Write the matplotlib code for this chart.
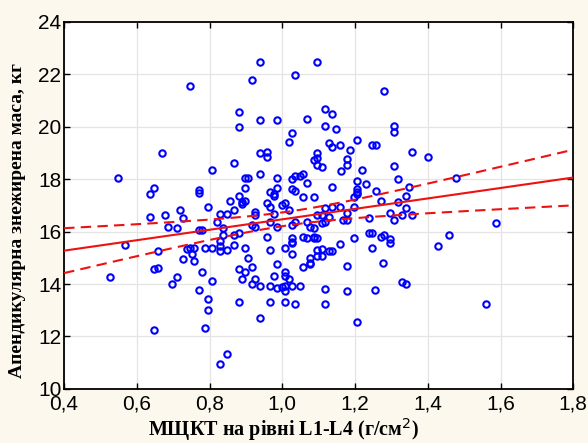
import matplotlib.pyplot as plt
import numpy as np

# bone mineral density (x) vs appendicular lean mass (y)
bmd = [0.939, 1.095, 0.916, 1.035, 0.747, 1.280, 0.880, 0.880, 0.939, 0.985,
       1.068, 1.118, 1.136, 1.118, 1.147, 1.306, 1.306, 1.026, 1.017, 0.669,
       0.939, 0.957, 0.957, 0.866, 0.806, 0.939, 0.549, 0.898, 0.907, 0.985,
       1.026, 1.035, 1.049, 1.058, 1.068, 1.086, 1.095, 1.095, 1.095, 1.109,
       1.128, 1.137, 1.159, 1.206, 1.246, 1.257, 1.187, 1.178, 1.178, 1.357,
       1.400, 1.306, 1.220, 1.160, 1.317, 1.478, 1.206, 1.206, 1.206, 1.229,
       1.137, 1.348, 1.257, 1.197, 1.271, 1.340, 1.317, 1.340, 1.118, 1.136,
       1.159, 1.196, 0.646, 0.637, 0.770, 0.770, 0.898, 0.880, 0.857, 0.889,
       0.889, 0.898, 0.985, 0.967, 0.976, 0.976, 1.026, 1.035, 1.058, 1.086,
       0.957, 0.967, 0.999, 1.008, 0.797, 0.719, 0.866, 0.925, 1.017, 0.635,
       0.678, 0.728, 0.687, 0.710, 0.770, 0.779, 0.568, 0.525, 0.646, 0.659,
       0.659, 0.737, 0.747, 0.756, 0.753, 0.756, 0.728, 0.788, 0.806, 0.779,
       0.806, 0.696, 0.710, 0.770, 0.797, 0.797, 0.788, 0.646, 0.848, 0.829,
       0.820, 0.829, 0.848, 0.838, 0.838, 0.829, 0.829, 0.829, 0.848, 0.866,
       0.866, 0.880, 0.898, 0.907, 0.880, 0.889, 0.898, 0.916, 0.916, 0.925,
       0.939, 0.880, 0.939, 0.925, 0.916, 0.925, 0.976, 0.967, 0.985, 0.957,
       0.967, 0.985, 0.976, 0.967, 0.985, 0.999, 0.967, 1.008, 1.008, 1.017,
       1.008, 1.008, 1.026, 1.049, 1.008, 1.035, 1.008, 1.026, 1.026, 1.026,
       1.026, 1.026, 1.035, 1.068, 1.077, 1.086, 1.095, 1.058, 1.068, 1.086,
       1.086, 1.095, 1.095, 1.077, 1.077, 1.077, 1.058, 1.095, 1.109, 1.109,
       1.127, 1.136, 1.159, 1.196, 1.178, 1.118, 1.118, 1.178, 1.205, 1.246,
       1.237, 1.246, 1.255, 1.109, 1.127, 1.110, 1.118, 1.168, 1.178, 1.178,
       1.237, 1.297, 1.306, 1.329, 1.357, 1.271, 1.280, 1.297, 1.297, 1.278,
       1.329, 1.340, 1.427, 1.459, 1.588, 1.561, 1.205]
lean = [22.47, 22.47, 21.78, 21.97, 21.54, 21.35, 20.54, 19.98, 20.24, 20.24,
        20.30, 20.67, 20.48, 20.04, 19.92, 20.04, 19.79, 19.74, 19.42, 18.99,
        18.99, 19.05, 18.86, 18.61, 18.35, 18.18, 18.05, 18.05, 18.05, 18.05,
        17.99, 18.11, 18.11, 18.18, 17.86, 18.74, 18.99, 18.80, 18.55, 18.48,
        19.36, 19.23, 19.29, 19.49, 19.29, 19.29, 19.12, 18.75, 18.55, 19.05,
        18.86, 18.49, 18.36, 18.30, 17.99, 18.05, 17.92, 17.62, 17.49, 17.81,
        17.68, 17.68, 17.55, 17.30, 17.17, 17.36, 17.11, 16.88, 16.88, 16.93,
        16.93, 16.94, 17.67, 17.43, 17.60, 17.48, 17.67, 17.37, 17.18, 17.11,
        17.05, 17.18, 17.67, 17.49, 17.37, 17.43, 17.61, 17.56, 17.30, 17.30,
        17.08, 16.95, 17.03, 17.08, 16.93, 16.82, 16.81, 16.75, 16.84, 16.56,
        16.62, 16.50, 16.18, 16.12, 16.06, 16.06, 15.50, 14.25, 14.57, 14.62,
        15.26, 15.32, 15.36, 15.38, 15.16, 14.88, 14.95, 15.38, 15.38, 14.45,
        14.13, 14.00, 14.25, 13.76, 13.44, 13.01, 12.32, 12.26, 11.33, 10.95,
        16.36, 16.68, 16.68, 16.12, 15.87, 15.63, 15.44, 15.26, 15.31, 15.50,
        15.87, 15.93, 15.37, 15.00, 14.57, 14.19, 14.45, 14.64, 14.00, 14.19,
        13.94, 13.31, 12.69, 16.62, 16.25, 16.18, 16.68, 16.36, 16.18, 15.80,
        15.31, 14.75, 14.32, 13.94, 13.83, 13.88, 13.31, 14.45, 14.32, 14.19,
        13.94, 13.75, 13.94, 13.94, 13.31, 13.25, 15.37, 15.13, 15.62, 15.74,
        15.55, 16.25, 16.36, 16.36, 16.18, 16.12, 16.62, 15.80, 15.74, 15.80,
        15.74, 15.74, 15.31, 15.00, 14.81, 14.75, 14.64, 15.07, 15.07, 15.32,
        15.26, 15.26, 15.51, 15.74, 14.69, 13.82, 13.25, 13.75, 12.56, 15.38,
        15.93, 15.93, 13.76, 16.62, 16.54, 16.31, 16.36, 16.44, 16.44, 16.69,
        16.50, 16.69, 16.44, 16.63, 16.63, 15.80, 15.87, 15.70, 15.57, 14.81,
        14.06, 14.00, 15.45, 15.87, 16.31, 13.25, 17.45]

x_ticks = [0.4, 0.6, 0.8, 1.0, 1.2, 1.4, 1.6, 1.8]
y_ticks = [10, 12, 14, 16, 18, 20, 22, 24]

x = np.array(bmd)
y = np.array(lean)

# linear fit with 95% confidence band
n = len(x)
b, a = np.polyfit(x, y, 1)
resid = y - (a + b * x)
s = np.sqrt(np.sum(resid ** 2) / (n - 2))
sxx = np.sum((x - x.mean()) ** 2)
xs = np.linspace(0.4, 1.8, 200)
fit = a + b * xs
half = 1.97 * s * np.sqrt(1 / n + (xs - x.mean()) ** 2 / sxx)

fig = plt.figure(figsize=(5.88, 4.43), dpi=100, facecolor='#fdf8ed')
ax = fig.add_axes([0.109, 0.122, 0.866, 0.829])
ax.set_facecolor('white')

ax.plot(x, y, 'o', ms=4.6, mfc='none', mec='#0000ff', mew=1.5, zorder=3)
ax.plot(xs, fit, color='#ee1111', lw=1.5, zorder=4)
ax.plot(xs, fit + half, color='#ee1111', lw=1.5, ls=(0, (5, 3)), zorder=4)
ax.plot(xs, fit - half, color='#ee1111', lw=1.5, ls=(0, (5, 3)), zorder=4)

ax.set_xlim(0.4, 1.8)
ax.set_ylim(10, 24)
ax.set_xticks(x_ticks)
ax.set_yticks(y_ticks)
ax.set_xticklabels([('%.1f' % t).replace('.', ',') for t in x_ticks])
ax.set_yticklabels([str(t) for t in y_ticks])
ax.grid(True, color='#e4e4e4', lw=0.9)
ax.set_axisbelow(True)
ax.tick_params(direction='in', length=4, width=1, top=True, right=True,
               labelsize=15, colors='black')
ax.tick_params(axis='x', pad=4)
ax.tick_params(axis='y', pad=2)
for lab in ax.get_xticklabels() + ax.get_yticklabels():
    lab.set_family('Liberation Sans')
for sp in ax.spines.values():
    sp.set_linewidth(1.3)

ax.set_xlabel('МЩКТ на рівні L1-L4 (г/см$^2$)', family='Liberation Serif',
              fontweight='bold', fontsize=14.5, labelpad=3)
ax.xaxis.set_label_coords(0.43, -0.075)
ax.set_ylabel('Апендикулярна знежирена маса, кг', family='Liberation Serif',
              fontweight='bold', fontsize=14, labelpad=2)
ax.yaxis.set_label_coords(-0.075, 0.46)

fig.savefig('out.png', dpi=100, facecolor=fig.get_facecolor())
